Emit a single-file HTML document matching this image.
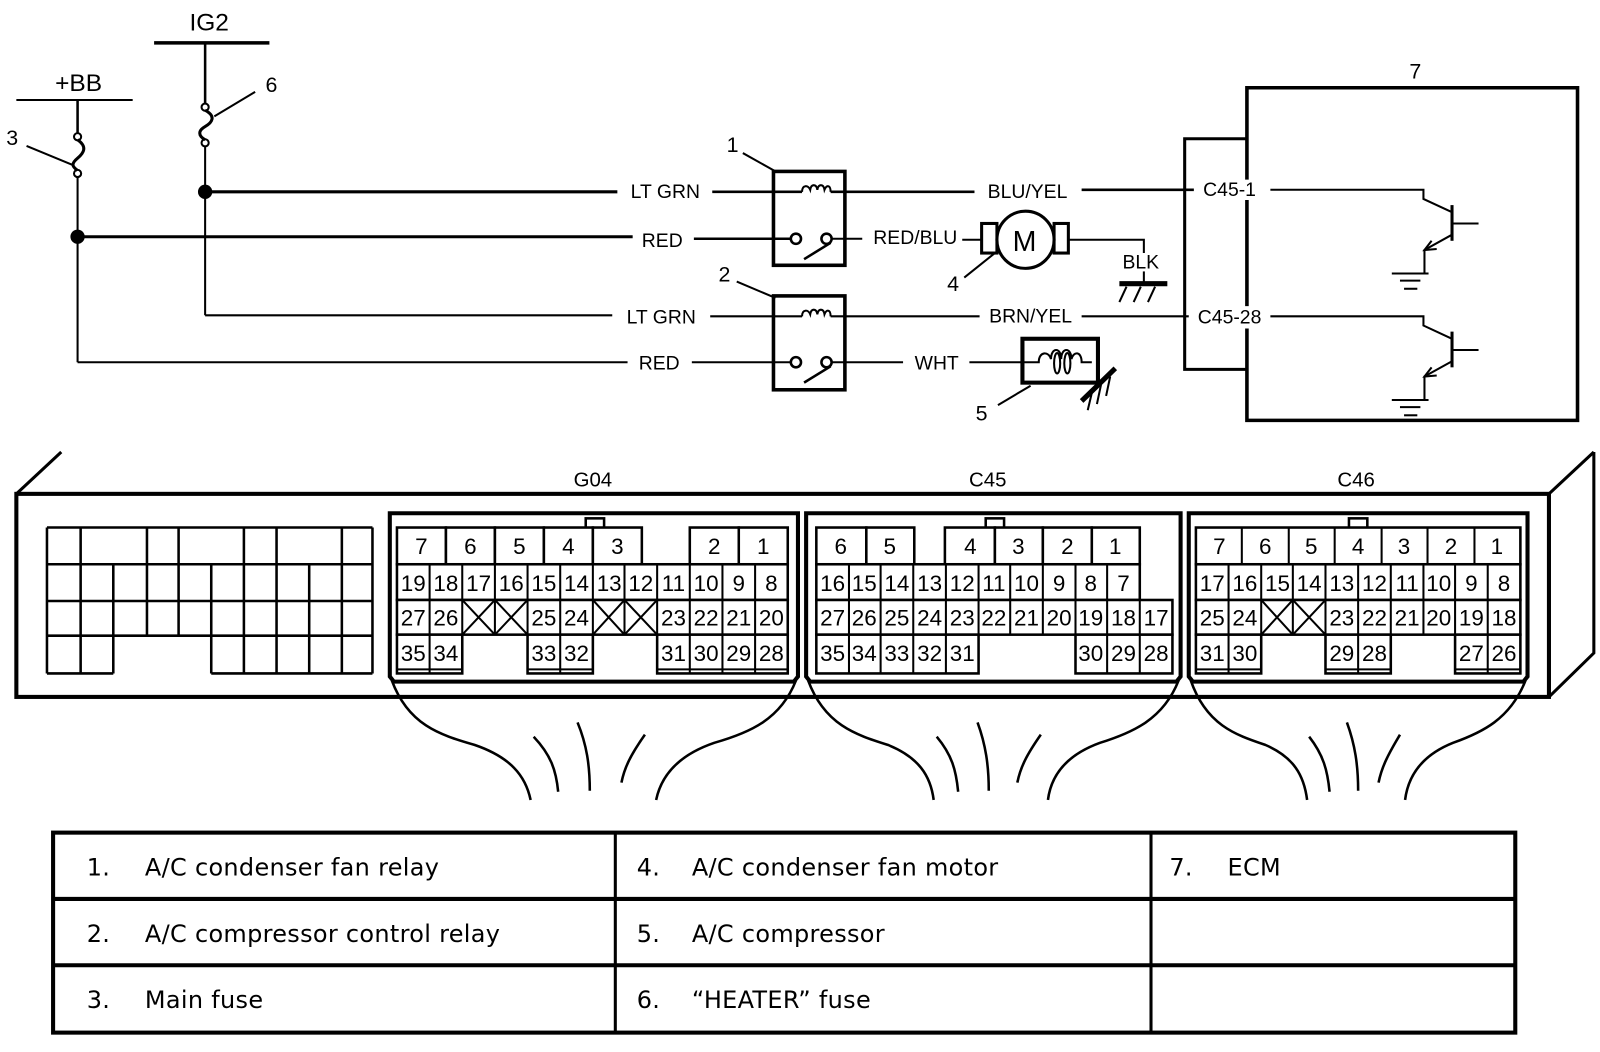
<!DOCTYPE html>
<html><head><meta charset="utf-8"><style>
html,body{margin:0;padding:0;background:#fff}
svg{display:block}
text{font-family:"Liberation Sans",sans-serif;fill:#000}
.t{font-family:"DejaVu Sans","Liberation Sans",sans-serif;font-size:23.5px;letter-spacing:0.3px}
.n{font-size:22px;text-anchor:middle}
.l{font-size:19px;text-anchor:middle}
</style></head><body>
<svg width="1600" height="1052" viewBox="0 0 1568 1031" xmlns="http://www.w3.org/2000/svg">
<g fill="none" stroke="#000" stroke-linecap="butt">
<line x1="151" y1="42" x2="264" y2="42" stroke-width="3.5"/>
<line x1="16" y1="98" x2="130" y2="98" stroke-width="2"/>
<line x1="201" y1="42" x2="201" y2="101" stroke-width="2.5"/>
<line x1="76" y1="98" x2="76" y2="130" stroke-width="2.5"/>
<circle cx="201" cy="105" r="3.5" stroke-width="2"/>
<circle cx="201" cy="140" r="3.5" stroke-width="2"/>
<path d="M201,108 C212,114 208,120 201,124 C194,128 194,133 201,137" stroke-width="3"/>
<line x1="250" y1="90" x2="210" y2="114" stroke-width="2"/>
<circle cx="76" cy="134" r="3.5" stroke-width="2"/>
<circle cx="76" cy="170" r="3.5" stroke-width="2"/>
<path d="M76,137 C86,144 82,150 76,155 C70,160 70,163 76,167" stroke-width="3"/>
<line x1="26" y1="143" x2="72" y2="162" stroke-width="2"/>
<line x1="201" y1="143" x2="201" y2="309" stroke-width="2"/>
<line x1="76" y1="173" x2="76" y2="355" stroke-width="2"/>
<line x1="201" y1="188" x2="605" y2="188" stroke-width="3"/>
<line x1="76" y1="232" x2="620" y2="232" stroke-width="3"/>
<line x1="201" y1="309" x2="600" y2="309" stroke-width="2"/>
<line x1="76" y1="355" x2="615" y2="355" stroke-width="2"/>
<line x1="698" y1="188" x2="786" y2="188" stroke-width="2.5"/>
<line x1="680" y1="234" x2="776" y2="234" stroke-width="2.5"/>
<line x1="696" y1="310" x2="786" y2="310" stroke-width="2"/>
<line x1="678" y1="355" x2="776" y2="355" stroke-width="2"/>
<rect x="758" y="168" width="70" height="92" stroke-width="3.5"/>
<path d="M786,188 C786,181 792,181 794,186 C795,180 800,180 801,186 C802,180 807,180 808,186 C810,181 814,181 814,188" stroke-width="2"/>
<line x1="814" y1="188" x2="955" y2="188" stroke-width="2.5"/>
<circle cx="780" cy="234" r="5" stroke-width="2.5"/>
<circle cx="810" cy="234" r="5" stroke-width="2.5"/>
<line x1="788" y1="254" x2="814" y2="238" stroke-width="2.5"/>
<line x1="815" y1="234" x2="845" y2="234" stroke-width="2"/>
<line x1="728" y1="150" x2="760" y2="168" stroke-width="2"/>
<rect x="758" y="290" width="70" height="92" stroke-width="3.5"/>
<path d="M786,310 C786,303 792,303 794,308 C795,302 800,302 801,308 C802,302 807,302 808,308 C810,303 814,303 814,310" stroke-width="2"/>
<line x1="814" y1="310" x2="960" y2="310" stroke-width="2"/>
<circle cx="780" cy="355" r="5" stroke-width="2.5"/>
<circle cx="810" cy="355" r="5" stroke-width="2.5"/>
<line x1="788" y1="375" x2="814" y2="359" stroke-width="2.5"/>
<line x1="815" y1="355" x2="885" y2="355" stroke-width="2"/>
<line x1="722" y1="276" x2="760" y2="292" stroke-width="2"/>
<line x1="943" y1="235" x2="962" y2="235" stroke-width="2"/>
<rect x="962" y="219" width="15" height="29" stroke-width="3"/>
<rect x="1033" y="219" width="14" height="29" stroke-width="3"/>
<circle cx="1005" cy="235" r="28" fill="#fff" stroke-width="3"/>
<polyline points="1047,235 1121,235 1121,248" stroke-width="2"/>
<line x1="1121" y1="266" x2="1121" y2="278" stroke-width="2"/>
<line x1="1097" y1="278" x2="1144" y2="278" stroke-width="5"/>
<line x1="1104" y1="281" x2="1097" y2="296" stroke-width="2"/>
<line x1="1118" y1="281" x2="1111" y2="296" stroke-width="2"/>
<line x1="1132" y1="281" x2="1125" y2="296" stroke-width="2"/>
<line x1="945" y1="272" x2="975" y2="248" stroke-width="2"/>
<line x1="950" y1="355" x2="1002" y2="355" stroke-width="2"/>
<rect x="1002" y="332" width="74" height="43" stroke-width="4"/>
<path d="M1002,355 L1018,355 C1018,344 1028,344 1030,352 C1030,340 1040,340 1040,352 C1040,340 1050,340 1050,352 C1052,344 1060,344 1060,355 L1070,355" stroke-width="2"/>
<ellipse cx="1036" cy="356" rx="3" ry="10" stroke-width="2"/>
<ellipse cx="1046" cy="356" rx="3" ry="10" stroke-width="2"/>
<line x1="1060" y1="393" x2="1093" y2="361" stroke-width="5"/>
<line x1="1070" y1="385" x2="1066" y2="402" stroke-width="2"/>
<line x1="1079" y1="377" x2="1075" y2="396" stroke-width="2"/>
<line x1="1088" y1="369" x2="1084" y2="388" stroke-width="2"/>
<line x1="978" y1="397" x2="1010" y2="378" stroke-width="2"/>
<polyline points="1222,176 1222,86 1546,86 1546,412 1222,412 1222,322" stroke-width="3.5"/>
<line x1="1222" y1="196" x2="1222" y2="300" stroke-width="3.5"/>
<polyline points="1222,136 1161,136 1161,362 1222,362" stroke-width="3"/>
<line x1="1060" y1="186" x2="1170" y2="186" stroke-width="2.5"/>
<line x1="1060" y1="310" x2="1165" y2="310" stroke-width="2"/>
<g stroke-width="2">
<polyline points="1245,186 1395,186 1395,195 1423,208"/>
<line x1="1423" y1="201" x2="1423" y2="236" stroke-width="3"/>
<line x1="1423" y1="219" x2="1449" y2="219"/>
<polyline points="1423,230 1396,245 1396,268"/>
<polyline points="1403,236 1396,245 1408,244"/>
<line x1="1364" y1="268" x2="1400" y2="268"/>
<line x1="1372" y1="275" x2="1392" y2="275"/>
<line x1="1376" y1="283" x2="1389" y2="283"/>
</g>
<g stroke-width="2" transform="translate(0,124)">
<polyline points="1245,186 1395,186 1395,195 1423,208"/>
<line x1="1423" y1="201" x2="1423" y2="236" stroke-width="3"/>
<line x1="1423" y1="219" x2="1449" y2="219"/>
<polyline points="1423,230 1396,245 1396,268"/>
<polyline points="1403,236 1396,245 1408,244"/>
<line x1="1364" y1="268" x2="1400" y2="268"/>
<line x1="1372" y1="275" x2="1392" y2="275"/>
<line x1="1376" y1="283" x2="1389" y2="283"/>
</g>
<rect x="16" y="484" width="1502" height="199" stroke-width="4"/>
<line x1="16" y1="484" x2="60" y2="443" stroke-width="3"/>
<polyline points="1518,484 1562,443" stroke-width="3"/>
<polyline points="1518,683 1562,640 1562,443" stroke-width="3"/>
<g stroke-width="2.5">
<line x1="46" y1="517" x2="365" y2="517"/>
<line x1="46" y1="553" x2="365" y2="553"/>
<line x1="46" y1="589" x2="365" y2="589"/>
<line x1="46" y1="623" x2="365" y2="623"/>
<line x1="46" y1="660" x2="111" y2="660"/>
<line x1="207" y1="660" x2="365" y2="660"/>
<line x1="46" y1="517" x2="46" y2="660"/><line x1="79" y1="517" x2="79" y2="660"/>
<line x1="111" y1="553" x2="111" y2="660"/>
<line x1="144" y1="517" x2="144" y2="623"/><line x1="175" y1="517" x2="175" y2="623"/>
<line x1="207" y1="553" x2="207" y2="660"/>
<line x1="239" y1="517" x2="239" y2="660"/><line x1="271" y1="517" x2="271" y2="660"/>
<line x1="303" y1="553" x2="303" y2="660"/>
<line x1="335" y1="517" x2="335" y2="660"/><line x1="365" y1="517" x2="365" y2="660"/>
</g>
<path d="M382,503 H782 V663 L778,668 H386 L382,663 Z" stroke-width="4"/>
<path d="M790,503 H1157 V663 L1153,668 H794 L790,663 Z" stroke-width="4"/>
<path d="M1165,503 H1497 V663 L1493,668 H1169 L1165,663 Z" stroke-width="4"/>
<rect x="574" y="508" width="18" height="10" stroke-width="2.5"/>
<rect x="966" y="508" width="18" height="10" stroke-width="2.5"/>
<rect x="1322" y="508" width="18" height="10" stroke-width="2.5"/>
<g stroke-width="2.5">
<path d="M384,667 C400,710 430,720 465,730 C500,742 515,760 520,784"/>
<path d="M780,667 C765,705 735,718 700,728 C665,740 648,760 643,784"/>
<path d="M523,722 C540,740 545,755 547,776"/>
<path d="M566,708 C575,730 578,750 578,775"/>
<path d="M632,720 C618,740 612,752 609,767"/>
<path d="M792,667 C808,710 838,720 870,730 C900,742 912,760 915,784"/>
<path d="M1155,667 C1140,705 1110,718 1078,728 C1045,740 1030,760 1027,784"/>
<path d="M918,722 C933,740 937,755 939,776"/>
<path d="M958,708 C966,730 969,750 969,775"/>
<path d="M1020,720 C1006,740 1000,752 997,767"/>
<path d="M1167,667 C1182,710 1210,720 1240,730 C1268,742 1278,760 1281,784"/>
<path d="M1495,667 C1480,705 1452,718 1424,728 C1394,740 1380,760 1377,784"/>
<path d="M1283,722 C1297,740 1301,755 1303,776"/>
<path d="M1320,708 C1328,730 1331,750 1331,775"/>
<path d="M1372,720 C1360,740 1354,752 1351,767"/>
</g>
<rect x="52" y="816" width="1433" height="196" stroke-width="4"/>
<line x1="52" y1="881" x2="1485" y2="881" stroke-width="4"/>
<line x1="52" y1="946" x2="1485" y2="946" stroke-width="4"/>
<line x1="603" y1="816" x2="603" y2="1012" stroke-width="3"/>
<line x1="1128" y1="816" x2="1128" y2="1012" stroke-width="3"/>
</g>
<circle cx="201" cy="188" r="7" fill="#000"/>
<circle cx="76" cy="232" r="7" fill="#000"/>

<g fill="#fff" stroke="#000" stroke-width="2.5">
<rect x="389" y="517" width="48" height="36"/><rect x="437" y="517" width="48" height="36"/><rect x="485" y="517" width="48" height="36"/><rect x="533" y="517" width="48" height="36"/><rect x="581" y="517" width="48" height="36"/>
<rect x="676" y="517" width="48" height="36"/><rect x="724" y="517" width="48" height="36"/>
<rect x="389" y="553" width="383" height="35"/>
<rect x="389" y="588" width="383" height="34"/>
<rect x="389" y="622" width="64" height="38"/><rect x="517" y="622" width="64" height="38"/><rect x="644" y="622" width="128" height="38"/>
</g>
<g stroke="#000" stroke-width="2">
<line x1="421" y1="553" x2="421" y2="660"/><line x1="453" y1="553" x2="453" y2="622"/><line x1="485" y1="553" x2="485" y2="622"/><line x1="517" y1="553" x2="517" y2="622"/><line x1="549" y1="553" x2="549" y2="660"/><line x1="581" y1="553" x2="581" y2="622"/><line x1="612" y1="553" x2="612" y2="622"/><line x1="644" y1="553" x2="644" y2="622"/><line x1="676" y1="553" x2="676" y2="660"/><line x1="708" y1="553" x2="708" y2="660"/><line x1="740" y1="553" x2="740" y2="660"/>
<path d="M453,588 L485,622 M485,588 L453,622 M485,588 L517,622 M517,588 L485,622 M581,588 L612,622 M612,588 L581,622 M612,588 L644,622 M644,588 L612,622"/>
<line x1="389" y1="656" x2="453" y2="656"/><line x1="517" y1="656" x2="581" y2="656"/><line x1="644" y1="656" x2="772" y2="656"/>
</g>
<g fill="#fff" stroke="#000" stroke-width="2.5">
<rect x="800" y="517" width="49" height="36"/><rect x="849" y="517" width="47" height="36"/>
<rect x="926" y="517" width="49" height="36"/><rect x="975" y="517" width="47" height="36"/><rect x="1022" y="517" width="48" height="36"/><rect x="1070" y="517" width="47" height="36"/>
<rect x="800" y="553" width="317" height="35"/>
<rect x="800" y="588" width="349" height="34"/>
<rect x="800" y="622" width="159" height="38"/><rect x="1054" y="622" width="95" height="38"/>
</g>
<g stroke="#000" stroke-width="2">
<line x1="832" y1="553" x2="832" y2="660"/><line x1="863" y1="553" x2="863" y2="660"/><line x1="895" y1="553" x2="895" y2="660"/><line x1="927" y1="553" x2="927" y2="660"/><line x1="959" y1="553" x2="959" y2="622"/><line x1="990" y1="553" x2="990" y2="622"/><line x1="1022" y1="553" x2="1022" y2="622"/><line x1="1054" y1="553" x2="1054" y2="622"/><line x1="1085" y1="553" x2="1085" y2="660"/><line x1="1117" y1="588" x2="1117" y2="660"/>
</g>
<g fill="#fff" stroke="#000" stroke-width="2.5">
<rect x="1172" y="517" width="318" height="36"/>
<rect x="1172" y="553" width="318" height="35"/>
<rect x="1172" y="588" width="318" height="34"/>
<rect x="1172" y="622" width="64" height="38"/><rect x="1299" y="622" width="64" height="38"/><rect x="1426" y="622" width="64" height="38"/>
</g>
<g stroke="#000" stroke-width="2">
<line x1="1217" y1="517" x2="1217" y2="553"/><line x1="1263" y1="517" x2="1263" y2="553"/><line x1="1308" y1="517" x2="1308" y2="553"/><line x1="1354" y1="517" x2="1354" y2="553"/><line x1="1399" y1="517" x2="1399" y2="553"/><line x1="1445" y1="517" x2="1445" y2="553"/>
<line x1="1204" y1="553" x2="1204" y2="660"/><line x1="1236" y1="553" x2="1236" y2="622"/><line x1="1267" y1="553" x2="1267" y2="622"/><line x1="1299" y1="553" x2="1299" y2="622"/><line x1="1331" y1="553" x2="1331" y2="660"/><line x1="1363" y1="553" x2="1363" y2="622"/><line x1="1395" y1="553" x2="1395" y2="622"/><line x1="1426" y1="553" x2="1426" y2="622"/><line x1="1458" y1="553" x2="1458" y2="660"/>
<path d="M1236,588 L1267,622 M1267,588 L1236,622 M1267,588 L1299,622 M1299,588 L1267,622"/>
<line x1="1172" y1="656" x2="1236" y2="656"/><line x1="1299" y1="656" x2="1363" y2="656"/><line x1="1426" y1="656" x2="1490" y2="656"/>
</g>

<text x="205" y="30" font-size="24" text-anchor="middle">IG2</text>
<text x="77" y="89" font-size="24" text-anchor="middle">+BB</text>
<text x="12" y="142" font-size="21" text-anchor="middle">3</text>
<text x="266" y="90" font-size="21" text-anchor="middle">6</text>
<text x="718" y="149" font-size="21" text-anchor="middle">1</text>
<text x="710" y="276" font-size="21" text-anchor="middle">2</text>
<text x="934" y="285" font-size="21" text-anchor="middle">4</text>
<text x="962" y="412" font-size="21" text-anchor="middle">5</text>
<text x="1387" y="77" font-size="21" text-anchor="middle">7</text>
<text x="1004" y="246" font-size="28" text-anchor="middle">M</text>
<text class="l" x="652" y="194">LT GRN</text>
<text class="l" x="649" y="242">RED</text>
<text class="l" x="648" y="317">LT GRN</text>
<text class="l" x="646" y="362">RED</text>
<text class="l" x="1007" y="194">BLU/YEL</text>
<text class="l" x="897" y="239">RED/BLU</text>
<text class="l" x="1010" y="316">BRN/YEL</text>
<text class="l" x="918" y="362">WHT</text>
<text class="l" x="1118" y="263">BLK</text>
<text class="l" x="1205" y="192">C45-1</text>
<text class="l" x="1205" y="317">C45-28</text>
<text x="581" y="477" font-size="20" text-anchor="middle">G04</text>
<text x="968" y="477" font-size="20" text-anchor="middle">C45</text>
<text x="1329" y="477" font-size="20" text-anchor="middle">C46</text>

<text class="n" x="413" y="543">7</text><text class="n" x="461" y="543">6</text><text class="n" x="509" y="543">5</text><text class="n" x="557" y="543">4</text><text class="n" x="605" y="543">3</text><text class="n" x="700" y="543">2</text><text class="n" x="748" y="543">1</text>
<text class="n" x="405" y="579">19</text><text class="n" x="437" y="579">18</text><text class="n" x="469" y="579">17</text><text class="n" x="501" y="579">16</text><text class="n" x="533" y="579">15</text><text class="n" x="565" y="579">14</text><text class="n" x="597" y="579">13</text><text class="n" x="628" y="579">12</text><text class="n" x="660" y="579">11</text><text class="n" x="692" y="579">10</text><text class="n" x="724" y="579">9</text><text class="n" x="756" y="579">8</text>
<text class="n" x="405" y="613">27</text><text class="n" x="437" y="613">26</text><text class="n" x="533" y="613">25</text><text class="n" x="565" y="613">24</text><text class="n" x="660" y="613">23</text><text class="n" x="692" y="613">22</text><text class="n" x="724" y="613">21</text><text class="n" x="756" y="613">20</text>
<text class="n" x="405" y="648">35</text><text class="n" x="437" y="648">34</text><text class="n" x="533" y="648">33</text><text class="n" x="565" y="648">32</text><text class="n" x="660" y="648">31</text><text class="n" x="692" y="648">30</text><text class="n" x="724" y="648">29</text><text class="n" x="756" y="648">28</text>
<text class="n" x="824" y="543">6</text><text class="n" x="872" y="543">5</text><text class="n" x="951" y="543">4</text><text class="n" x="998" y="543">3</text><text class="n" x="1046" y="543">2</text><text class="n" x="1093" y="543">1</text>
<text class="n" x="816" y="579">16</text><text class="n" x="847" y="579">15</text><text class="n" x="879" y="579">14</text><text class="n" x="911" y="579">13</text><text class="n" x="943" y="579">12</text><text class="n" x="974" y="579">11</text><text class="n" x="1006" y="579">10</text><text class="n" x="1038" y="579">9</text><text class="n" x="1069" y="579">8</text><text class="n" x="1101" y="579">7</text>
<text class="n" x="816" y="613">27</text><text class="n" x="847" y="613">26</text><text class="n" x="879" y="613">25</text><text class="n" x="911" y="613">24</text><text class="n" x="943" y="613">23</text><text class="n" x="974" y="613">22</text><text class="n" x="1006" y="613">21</text><text class="n" x="1038" y="613">20</text><text class="n" x="1069" y="613">19</text><text class="n" x="1101" y="613">18</text><text class="n" x="1133" y="613">17</text>
<text class="n" x="816" y="648">35</text><text class="n" x="847" y="648">34</text><text class="n" x="879" y="648">33</text><text class="n" x="911" y="648">32</text><text class="n" x="943" y="648">31</text><text class="n" x="1069" y="648">30</text><text class="n" x="1101" y="648">29</text><text class="n" x="1133" y="648">28</text>
<text class="n" x="1195" y="543">7</text><text class="n" x="1240" y="543">6</text><text class="n" x="1285" y="543">5</text><text class="n" x="1331" y="543">4</text><text class="n" x="1376" y="543">3</text><text class="n" x="1422" y="543">2</text><text class="n" x="1467" y="543">1</text>
<text class="n" x="1188" y="579">17</text><text class="n" x="1220" y="579">16</text><text class="n" x="1252" y="579">15</text><text class="n" x="1283" y="579">14</text><text class="n" x="1315" y="579">13</text><text class="n" x="1347" y="579">12</text><text class="n" x="1379" y="579">11</text><text class="n" x="1410" y="579">10</text><text class="n" x="1442" y="579">9</text><text class="n" x="1474" y="579">8</text>
<text class="n" x="1188" y="613">25</text><text class="n" x="1220" y="613">24</text><text class="n" x="1315" y="613">23</text><text class="n" x="1347" y="613">22</text><text class="n" x="1379" y="613">21</text><text class="n" x="1410" y="613">20</text><text class="n" x="1442" y="613">19</text><text class="n" x="1474" y="613">18</text>
<text class="n" x="1188" y="648">31</text><text class="n" x="1220" y="648">30</text><text class="n" x="1315" y="648">29</text><text class="n" x="1347" y="648">28</text><text class="n" x="1442" y="648">27</text><text class="n" x="1474" y="648">26</text>

<text class="t" x="85" y="858">1.</text><text class="t" x="142" y="858">A/C condenser fan relay</text>
<text class="t" x="85" y="923">2.</text><text class="t" x="142" y="923">A/C compressor control relay</text>
<text class="t" x="85" y="988">3.</text><text class="t" x="142" y="988">Main fuse</text>
<text class="t" x="624" y="858">4.</text><text class="t" x="678" y="858">A/C condenser fan motor</text>
<text class="t" x="624" y="923">5.</text><text class="t" x="678" y="923">A/C compressor</text>
<text class="t" x="624" y="988">6.</text><text class="t" x="678" y="988">“HEATER” fuse</text>
<text class="t" x="1146" y="858">7.</text><text class="t" x="1203" y="858">ECM</text>
</svg>
</body></html>
